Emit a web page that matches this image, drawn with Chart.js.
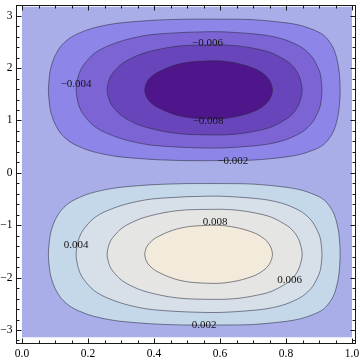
<!DOCTYPE html>
<html>
<head>
<meta charset="utf-8">
<script src="https://cdn.jsdelivr.net/npm/chart.js@4.4.1/dist/chart.umd.min.js"></script>
<style>
  html, body { margin: 0; padding: 0; background: #fff; }
  #wrap { width: 360px; height: 360px; }
</style>
</head>
<body>
<div id="wrap"><canvas id="chart" width="360" height="360"></canvas></div>
<script>
// contour levels, outer ring first
const negLevels = [-0.002, -0.004, -0.006, -0.008];
const posLevels = [0.002, 0.004, 0.006, 0.008];
const negColors = ["#8e85e8", "#7c64d5", "#6845bb", "#4f168b"];
const posColors = ["#c5d8ea", "#d7e0e8", "#e5e5e3", "#f2eada"];
const baseColor = "#a9ade8";

// plotted region
const xRange = [0, 1];
const yRange = [-3.14, 3.17];

// centre line of the two lobes
const lobeTop = 1.584;
const lobeBottom = -1.555;

// ring shapes: x and half height about the lobe centre
const ring1X = [0.08, 0.085, 0.09, 0.1, 0.12, 0.15, 0.2, 0.25, 0.3, 0.4, 0.5, 0.6, 0.7, 0.8, 0.85, 0.9, 0.92, 0.94, 0.95, 0.96, 0.964];
const ring1H = [0, 0.35, 0.48, 0.65, 0.85, 1.01, 1.15, 1.23, 1.28, 1.33, 1.35, 1.35, 1.34, 1.28, 1.22, 1.10, 1.01, 0.84, 0.69, 0.40, 0];
const ring2X = [0.164, 0.17, 0.18, 0.2, 0.22, 0.25, 0.3, 0.35, 0.4, 0.5, 0.6, 0.7, 0.75, 0.8, 0.85, 0.88, 0.9, 0.905, 0.909];
const ring2H = [0, 0.25, 0.41, 0.58, 0.70, 0.81, 0.93, 1.01, 1.06, 1.10, 1.11, 1.07, 1.03, 0.95, 0.80, 0.62, 0.38, 0.27, 0];
const ring3X = [0.258, 0.265, 0.275, 0.305, 0.355, 0.405, 0.455, 0.505, 0.605, 0.655, 0.705, 0.755, 0.805, 0.825, 0.84, 0.849];
const ring3H = [0, 0.21, 0.32, 0.51, 0.67, 0.76, 0.82, 0.85, 0.86, 0.84, 0.79, 0.71, 0.54, 0.42, 0.26, 0];
const ring4X = [0.372, 0.377, 0.387, 0.407, 0.457, 0.507, 0.572, 0.607, 0.657, 0.707, 0.737, 0.752, 0.759];
const ring4H = [0, 0.13, 0.22, 0.32, 0.46, 0.53, 0.555, 0.55, 0.50, 0.40, 0.28, 0.16, 0];

// contour labels
const labelText = ["\u22120.004", "\u22120.006", "\u22120.008", "\u22120.002", "0.008", "0.004", "0.006", "0.002"];
const labelX = [0.164, 0.562, 0.564, 0.639, 0.585, 0.164, 0.811, 0.552];
const labelY = [1.702, 2.469, 0.980, 0.217, -0.948, -1.377, -2.055, -2.905];

// axis ticks
const xTicks = [0, 0.2, 0.4, 0.6, 0.8, 1.0];
const yTicks = [-3, -2, -1, 0, 1, 2, 3];

const ringX = [ring1X, ring2X, ring3X, ring4X];
const ringH = [ring1H, ring2H, ring3H, ring4H];

// closed outline of one ring, starting at its top middle
function ringPoints(xs, hs, yc) {
  const upper = xs.map((x, i) => ({ x: x, y: yc + hs[i] }));
  const lower = xs.map((x, i) => ({ x: x, y: yc - hs[i] })).reverse().slice(1, -1);
  const loop = upper.concat(lower);
  const k = Math.floor(upper.length / 2);
  const pts = loop.slice(k).concat(loop.slice(0, k));
  pts.push(pts[0]);
  return pts;
}

const datasets = [];

datasets.push({
  data: [
    { x: xRange[0], y: yRange[0] }, { x: xRange[1], y: yRange[0] },
    { x: xRange[1], y: yRange[1] }, { x: xRange[0], y: yRange[1] },
    { x: xRange[0], y: yRange[0] }
  ],
  showLine: true, fill: "shape", tension: 0,
  backgroundColor: baseColor, borderWidth: 0, pointRadius: 0, order: 20
});

[[lobeTop, negLevels, negColors], [lobeBottom, posLevels, posColors]].forEach(([yc, levels, colors]) => {
  levels.forEach((lvl, i) => {
    datasets.push({
      label: String(lvl),
      data: ringPoints(ringX[i], ringH[i], yc),
      showLine: true, fill: "shape", tension: 0.3,
      backgroundColor: colors[i],
      borderColor: "rgba(40, 40, 60, 0.55)",
      borderWidth: 1, pointRadius: 0,
      order: 10 - i
    });
  });
});

// frame with inward ticks and the contour labels
const framePlugin = {
  id: "frame",
  afterDatasetsDraw(chart) {
    const { ctx, chartArea: a, scales: { x, y } } = chart;
    ctx.save();

    ctx.font = "11px 'Liberation Serif'";
    ctx.fillStyle = "#141414";
    ctx.textAlign = "center";
    ctx.textBaseline = "middle";
    labelText.forEach((t, i) => {
      ctx.fillText(t, x.getPixelForValue(labelX[i]), y.getPixelForValue(labelY[i]));
    });

    ctx.strokeStyle = "#1a1a1a";
    ctx.lineWidth = 1;
    ctx.strokeRect(a.left + 0.5, a.top + 0.5, a.width - 1, a.height - 1);

    ctx.beginPath();
    for (let v = 0; v <= 1.0001; v += 0.05) {
      const px = Math.round(x.getPixelForValue(v)) + 0.5;
      const major = Math.abs(v / 0.2 - Math.round(v / 0.2)) < 1e-6;
      const len = major ? 4.5 : 2.5;
      ctx.moveTo(px, a.bottom - 1); ctx.lineTo(px, a.bottom - 1 - len);
      ctx.moveTo(px, a.top + 1); ctx.lineTo(px, a.top + 1 + len);
    }
    for (let v = -3.2; v <= 3.2001; v += 0.2) {
      const py = Math.round(y.getPixelForValue(v)) + 0.5;
      const major = Math.abs(v - Math.round(v)) < 1e-6;
      const len = major ? 4.5 : 2.5;
      ctx.moveTo(a.left + 1, py); ctx.lineTo(a.left + 1 + len, py);
      ctx.moveTo(a.right - 1, py); ctx.lineTo(a.right - 1 - len, py);
    }
    ctx.stroke();
    ctx.restore();
  }
};

const tickFont = { family: "Liberation Serif", size: 11.5 };

new Chart(document.getElementById("chart"), {
  type: "scatter",
  data: { datasets: datasets },
  options: {
    responsive: false,
    devicePixelRatio: 1,
    animation: false,
    events: [],
    layout: { padding: { top: 5, right: 4, left: 0, bottom: 0 } },
    plugins: { legend: { display: false }, tooltip: { enabled: false } },
    scales: {
      x: {
        type: "linear",
        min: -0.0182,
        max: 1.0121,
        grid: { display: false, drawTicks: false },
        border: { display: false },
        ticks: {
          font: tickFont, color: "#000", padding: 3,
          autoSkip: false, maxRotation: 0,
          callback: v => v.toFixed(1)
        },
        afterBuildTicks: s => { s.ticks = xTicks.map(v => ({ value: v })); },
        afterFit: s => { s.height = 16; s.paddingLeft = 0; s.paddingRight = 0; }
      },
      y: {
        type: "linear",
        min: -3.2675,
        max: 3.2044,
        grid: { display: false, drawTicks: false },
        border: { display: false },
        ticks: {
          font: tickFont, color: "#000", padding: 3.5,
          autoSkip: false,
          callback: v => (v < 0 ? "\u2212" + Math.abs(v) : String(v))
        },
        afterBuildTicks: s => { s.ticks = yTicks.map(v => ({ value: v })); },
        afterFit: s => { s.width = 16; s.paddingTop = 0; s.paddingBottom = 0; }
      }
    }
  },
  plugins: [framePlugin]
});
</script>
</body>
</html>
